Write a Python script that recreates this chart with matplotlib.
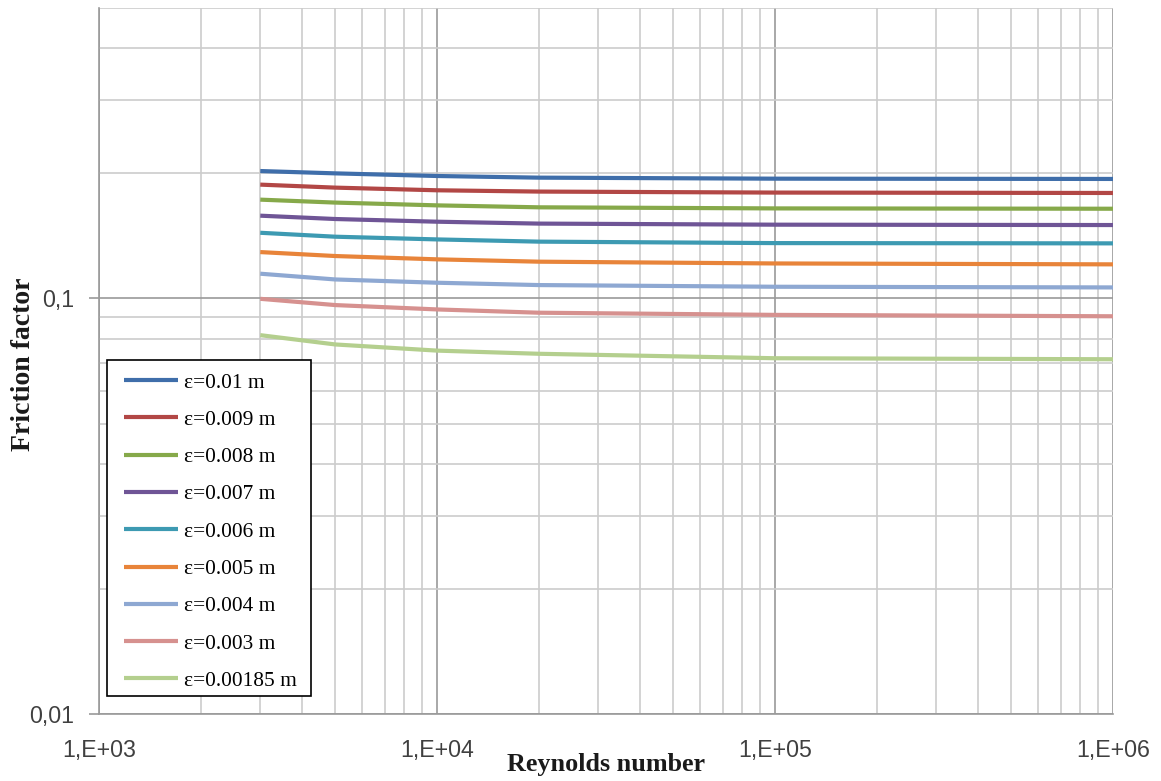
import matplotlib
matplotlib.use("Agg")
import matplotlib.pyplot as plt
from matplotlib.patches import Rectangle
from matplotlib.ticker import LogLocator, FixedLocator, NullFormatter

reynolds = [3000, 5000, 10000, 20000, 100000, 1000000]

labels = ["ε=0.01 m", "ε=0.009 m", "ε=0.008 m", "ε=0.007 m", "ε=0.006 m",
          "ε=0.005 m", "ε=0.004 m", "ε=0.003 m", "ε=0.00185 m"]

f_e010 = [0.2026, 0.2000, 0.1971, 0.1953, 0.1942, 0.1939]
f_e009 = [0.1879, 0.1848, 0.1821, 0.1808, 0.1798, 0.1794]
f_e008 = [0.1729, 0.1701, 0.1675, 0.1657, 0.1647, 0.1644]
f_e007 = [0.1582, 0.1553, 0.1530, 0.1514, 0.1505, 0.1502]
f_e006 = [0.1439, 0.1408, 0.1387, 0.1370, 0.1359, 0.1357]
f_e005 = [0.1293, 0.1265, 0.1242, 0.1226, 0.1214, 0.1208]
f_e004 = [0.1147, 0.1111, 0.1091, 0.1077, 0.1067, 0.1063]
f_e003 = [0.0998, 0.0964, 0.0941, 0.0924, 0.0913, 0.0906]
f_e00185 = [0.0816, 0.0775, 0.0749, 0.0736, 0.0718, 0.0714]

series = [f_e010, f_e009, f_e008, f_e007, f_e006, f_e005, f_e004, f_e003, f_e00185]
colors = ["#3F6EAA", "#B24745", "#86A94A", "#6F5596", "#3D9AB2",
          "#E8843A", "#8EA8D2", "#D6918F", "#B4CF8E"]

x_ticks = [1e3, 1e4, 1e5, 1e6]
x_ticklabels = ["1,E+03", "1,E+04", "1,E+05", "1,E+06"]
y_ticks = [0.01, 0.1]
y_ticklabels = ["0,01", "0,1"]

fig = plt.figure(figsize=(11.61, 7.81), dpi=100)
ax = fig.add_axes([99/1161, 1-714/781, (1113-99)/1161, (714-8)/781])

for vals, lab, c in zip(series, labels, colors):
    ax.plot(reynolds, vals, color=c, lw=3.0, label=lab, solid_capstyle='butt')

ax.set_xscale('log')
ax.set_yscale('log')
ax.set_xlim(1e3, 1e6)
ax.set_ylim(0.01, 0.5)

ax.xaxis.set_major_locator(FixedLocator(x_ticks))
ax.set_xticklabels(x_ticklabels)
ax.yaxis.set_major_locator(FixedLocator(y_ticks))
ax.set_yticklabels(y_ticklabels)
ax.xaxis.set_minor_locator(LogLocator(base=10, subs=range(2, 10), numticks=20))
ax.yaxis.set_minor_locator(LogLocator(base=10, subs=range(2, 10), numticks=20))
ax.xaxis.set_minor_formatter(NullFormatter())
ax.yaxis.set_minor_formatter(NullFormatter())

ax.grid(True, which='major', color='#9a9a9a', lw=1.2)
ax.grid(True, which='minor', color='#cccccc', lw=1.2)
ax.set_axisbelow(True)

for s in ['top', 'right']:
    ax.spines[s].set_visible(False)
for s in ['left', 'bottom']:
    ax.spines[s].set_color('#9a9a9a')
    ax.spines[s].set_linewidth(1.2)

ax.tick_params(which='major', width=1.2, color='#9a9a9a',
               labelsize=16.7, labelcolor='#404040')
ax.tick_params(axis='y', which='major', length=7, pad=11)
ax.tick_params(axis='x', which='major', length=0, pad=18)
ax.tick_params(which='minor', length=0)
for t in ax.get_xticklabels() + ax.get_yticklabels():
    t.set_fontfamily('Liberation Sans')

fig.text(606/1161, 1-764/781, "Reynolds number", fontfamily='Liberation Serif',
         fontweight='bold', fontsize=18.8, color='#1a1a1a', ha='center', va='center')
fig.text(23.5/1161, 1-364/781, "Friction factor", fontfamily='Liberation Serif',
         fontweight='bold', fontsize=20, color='#1a1a1a', ha='center', va='center',
         rotation=90)

# legend frame drawn as a separate box
box = Rectangle((0.0079, 0.0255), 0.2012, 0.4759, transform=ax.transAxes,
                facecolor='white', edgecolor='black', lw=1.2, zorder=4)
ax.add_patch(box)

leg = ax.legend(loc='lower left', bbox_to_anchor=(0.0247, 0.0326),
                prop={'family': 'Liberation Serif', 'size': 15.4},
                frameon=False,
                handlelength=2.5, handletextpad=0.3, labelspacing=0.81,
                borderpad=0, borderaxespad=0)
leg.set_zorder(5)

fig.savefig("out.png", dpi=100)
